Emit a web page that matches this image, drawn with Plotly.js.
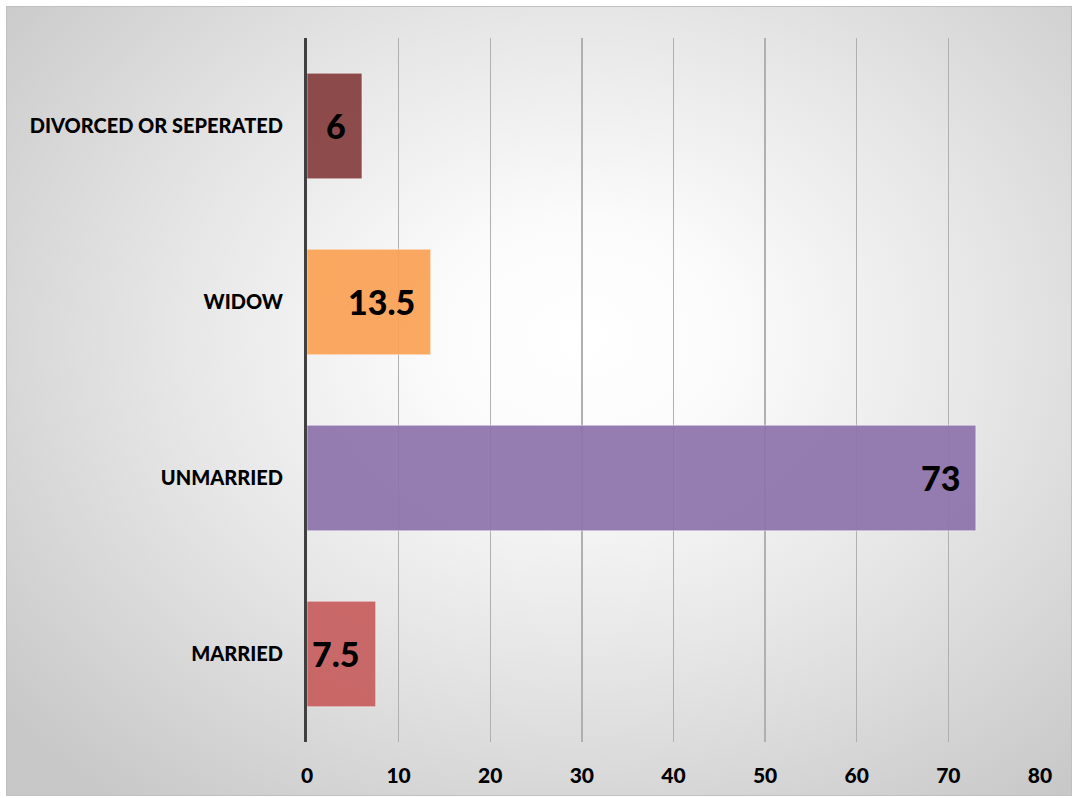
<!DOCTYPE html>
<html>
<head>
<meta charset="utf-8">
<script src="https://cdn.plot.ly/plotly-3.0.1.min.js"></script>
<style>
  html, body { margin: 0; padding: 0; background: #ffffff; }
  #frame {
    position: absolute; left: 6px; top: 6px; width: 1064px; height: 788px;
    border: 1px solid #c0c0c0;
    background: radial-gradient(ellipse 70% 75% at 54% 42%, #ffffff 0%, #fbfbfb 20%, #e6e6e6 55%, #d2d2d2 85%, #c8c8c8 100%);
  }
  #chart { width: 1064px; height: 788px; }
</style>
</head>
<body>
<div id="frame"><div id="chart"></div></div>
<script>
const categories = ["MARRIED", "UNMARRIED", "WIDOW", "DIVORCED OR SEPERATED"];
const values = [7.5, 73, 13.5, 6];
const barColors = ["#c85f5f", "#8e74ad", "#fba356", "#873f3f"];
const xTicks = [0, 10, 20, 30, 40, 50, 60, 70, 80];

const font = "Lato, 'Open Sans', sans-serif";

const trace = {
  type: "bar",
  orientation: "h",
  y: categories,
  x: values,
  marker: {
    color: barColors,
    opacity: 0.93,
    line: { color: "rgba(255,255,255,0.5)", width: 1 }
  },
  width: 0.6,
  hoverinfo: "none"
};

const labelAnnotations = values.map((v, i) => ({
  x: v,
  y: categories[i],
  xref: "x",
  yref: "y",
  text: String(v),
  showarrow: false,
  xanchor: "right",
  yanchor: "middle",
  xshift: -14,
  yshift: 1,
  font: { family: font, size: 34, color: "#000000", weight: 900 }
}));

const layout = {
  width: 1064,
  height: 788,
  paper_bgcolor: "rgba(0,0,0,0)",
  plot_bgcolor: "rgba(0,0,0,0)",
  margin: { l: 300, r: 31, t: 31, b: 53 },
  showlegend: false,
  bargap: 0.4,
  annotations: labelAnnotations,
  xaxis: {
    range: [0, 80],
    tickvals: xTicks,
    ticktext: xTicks.map(String),
    showgrid: true,
    gridcolor: "#b0b0b0",
    gridwidth: 1.3,
    zeroline: false,
    showline: false,
    ticks: "",
    ticklabelstandoff: 19,
    tickfont: { family: font, size: 21, color: "#000000", weight: 900 },
    fixedrange: true
  },
  yaxis: {
    type: "category",
    categoryorder: "array",
    categoryarray: categories,
    showgrid: false,
    zeroline: false,
    showline: true,
    linecolor: "#404040",
    linewidth: 3,
    ticks: "",
    ticklabelstandoff: 17,
    tickfont: { family: font, size: 20, color: "#000000", weight: 900 },
    fixedrange: true
  }
};

Plotly.newPlot("chart", [trace], layout, { displayModeBar: false, staticPlot: true });
</script>
</body>
</html>
